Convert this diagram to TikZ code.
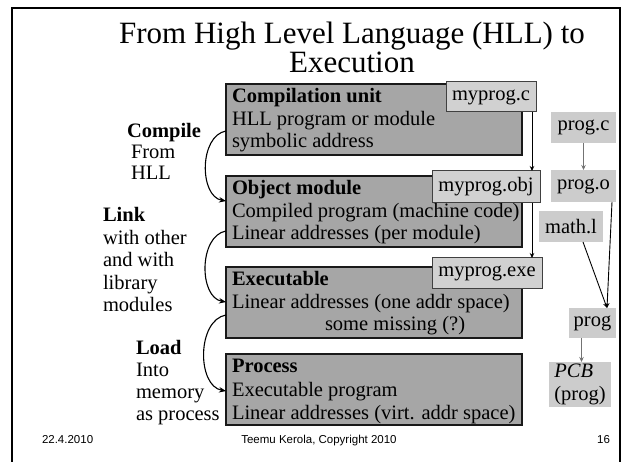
\documentclass[tikz,border=0pt]{standalone}
\usepackage{fontspec}
\setmainfont{Liberation Serif}
\newfontfamily\footfont{Liberation Sans}
\usetikzlibrary{arrows.meta}

\begin{document}
\begin{tikzpicture}[x=1pt,y=-1pt,
  every node/.style={inner sep=0pt, outer sep=0pt},
  body/.style={font=\fontsize{20.5}{23}\selectfont},
  txt/.style={body, anchor=base west},
  stage/.style={draw=black!90, line width=1.3pt, fill=black!35,
    minimum width=296pt, minimum height=71pt, anchor=north west},
  file/.style={body, draw=black!75, line width=1pt, fill=black!18, anchor=north west},
  plainfile/.style={body, fill=black!20, anchor=north west},
  flow/.style={-{Stealth[length=5pt,width=4.5pt]}, line width=0.9pt},
  lightflow/.style={flow, draw=black!55},
  bendarrow/.style={-{Stealth[length=7pt,width=5.5pt]}, line width=1.1pt, out=190, in=170},
  foot/.style={font=\footfont\fontsize{11.5}{13}\selectfont, anchor=base}]

\useasboundingbox (0,0) rectangle (622,462);

% slide frame
\draw[line width=2pt] (12,462) -- (12,8) -- (620,8) -- (620,462);

% title
\node[anchor=base, font=\fontsize{31}{34}\selectfont] (title1) at (352,44) {From High Level Language (HLL) to};
\node[anchor=base, font=\fontsize{31}{34}\selectfont] (title2) at (352,73) {Execution};

% the four stages
\node[stage] (cu)  at (226,84)  {};
\node[stage] (om)  at (226,176) {};
\node[stage] (ex)  at (226,267) {};
\node[stage] (pr)  at (226,354) {};

\node[txt] (cu1) at (232,103) {\textbf{Compilation unit}};
\node[txt] (cu2) at (232,125.5) {HLL program or module};
\node[txt] (cu3) at (232,148) {symbolic address};

\node[txt] (om1) at (232,195) {\textbf{Object module}};
\node[txt] (om2) at (232,217.5) {Compiled program (machine code)};
\node[txt] (om3) at (232,240) {Linear addresses (per module)};

\node[txt] (ex1) at (232,286) {\textbf{Executable}};
\node[txt] (ex2) at (232,308.5) {Linear addresses (one addr space)};
\node[txt] (ex3) at (325,331) {some missing (?)};

\node[txt] (pr1) at (232,373) {\textbf{Process}};
\node[txt] (pr2) at (232,396.5) {Executable program};
\node[txt] (pr3) at (232,420) {Linear addresses (virt. addr space)};

% file names of the example
\node[file, minimum width=90pt, minimum height=30pt] (myc)   at (446,82)  {myprog.c};
\node[file, minimum width=108pt, minimum height=32pt] (myobj) at (432,171) {myprog.obj};
\node[file, minimum width=110pt, minimum height=31pt] (myexe) at (432,258) {myprog.exe};

\draw[flow] ([xshift=-4pt]myc.south east) -- ([xshift=-4pt]myc.south east |- myobj.north);
\draw[flow] ([xshift=-8pt]myobj.south east) -- ([xshift=-8pt]myobj.south east |- myexe.north);

% separate example on the right
\node[plainfile, minimum width=65pt, minimum height=31pt] (pc)   at (551,112) {prog.c};
\node[plainfile, minimum width=65pt, minimum height=32pt] (po)   at (551,170) {prog.o};
\node[plainfile, minimum width=64pt, minimum height=31pt] (ml)   at (539,211) {math.l};
\node[plainfile, minimum width=47pt, minimum height=30pt] (pg)   at (569,308) {prog};
\node[plainfile, minimum width=62pt, minimum height=45pt, align=left] (pcb) at (549,362)
  {\textit{PCB}\\(prog)};

\coordinate (pgin) at ([xshift=-9pt]pg.north east);
\draw[lightflow] (pc.south) -- (po.north);
\draw[flow] ([xshift=-4pt]po.south east) -- (pgin);
\draw[flow] ([xshift=12pt]ml.south) -- (pgin);
\draw[lightflow] ([xshift=-11pt]pg.south) -- ([xshift=-11pt]pg.south |- pcb.north);

% step labels
\node[txt] (c1) at (127,138) {\textbf{Compile}};
\node[txt] (c2) at (131,159) {From};
\node[txt] (c3) at (131,180) {HLL};

\node[txt] (l1) at (103,222) {\textbf{Link}};
\node[txt] (l2) at (103,244.5) {with other};
\node[txt] (l3) at (103,267) {and with};
\node[txt] (l4) at (103,289.5) {library};
\node[txt] (l5) at (103,312) {modules};

\node[txt] (d1) at (136,355) {\textbf{Load}};
\node[txt] (d2) at (136,377) {Into};
\node[txt] (d3) at (136,399) {memory};
\node[txt] (d4) at (136,421) {as process};

% transitions between the stages
\coordinate (s1) at (cu.west |- 0,131);
\coordinate (e1) at (om.west |- 0,201);
\coordinate (s2) at (om.west |- 0,231);
\coordinate (e2) at (ex.west |- 0,302);
\coordinate (s3) at (ex.west |- 0,315);
\coordinate (e3) at (pr.west |- 0,391);
\draw[bendarrow] (s1) to (e1);
\draw[bendarrow] (s2) to (e2);
\draw[bendarrow] (s3) to (e3);

% footer
\node[foot, anchor=base west] (date) at (42,444) {22.4.2010};
\node[foot] (copy) at (319,444) {Teemu Kerola, Copyright 2010};
\node[foot, anchor=base east] (page) at (610,444) {16};
\end{tikzpicture}
\end{document}
